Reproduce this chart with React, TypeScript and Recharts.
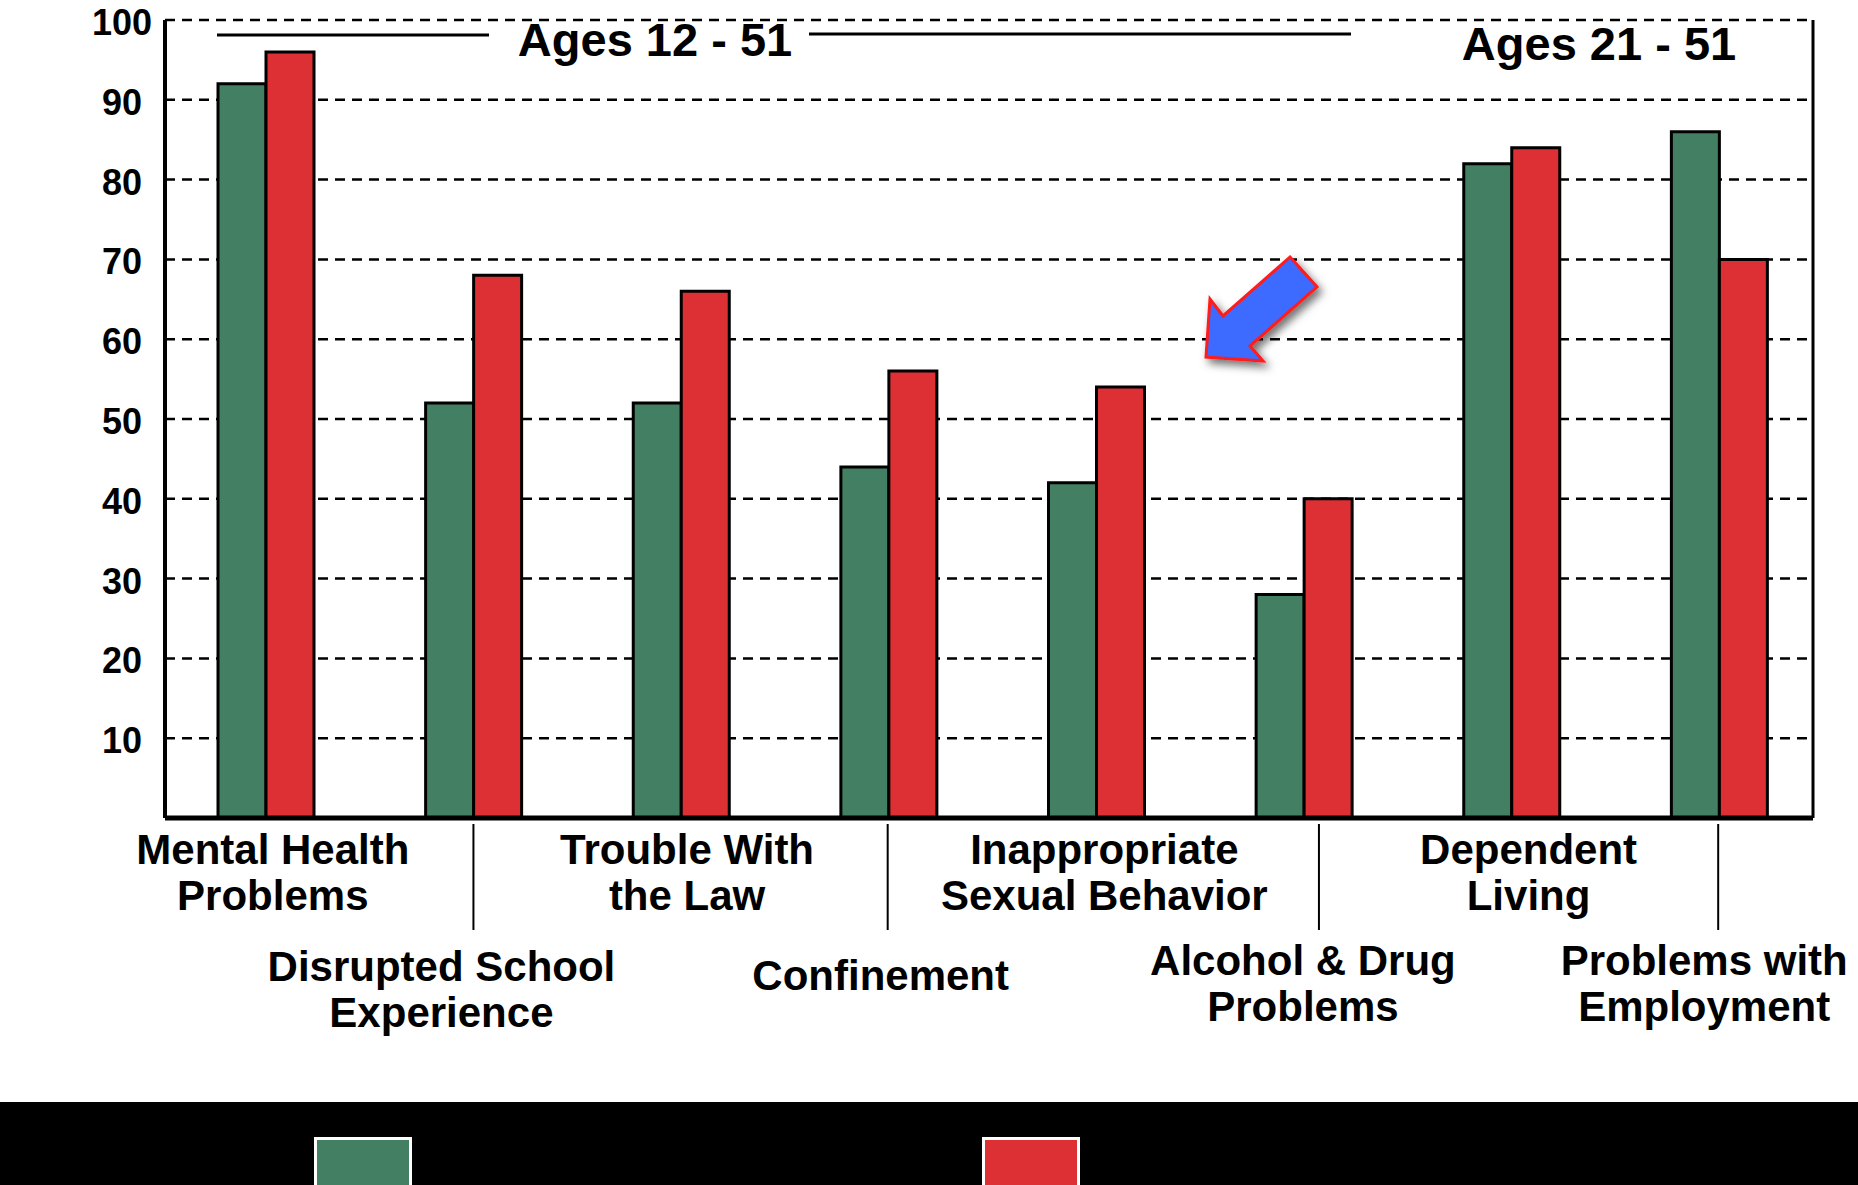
import React from 'react';
import { BarChart, Bar, XAxis, YAxis, CartesianGrid, Legend } from 'recharts';

// categories, two lines where the label wraps
const categories = [
  'Mental Health\nProblems',
  'Disrupted School\nExperience',
  'Trouble With\nthe Law',
  'Confinement',
  'Inappropriate\nSexual Behavior',
  'Alcohol & Drug\nProblems',
  'Dependent\nLiving',
  'Problems with\nEmployment',
];
const groupOne = [92, 52, 52, 44, 42, 28, 82, 86];
const groupTwo = [96, 68, 66, 56, 54, 40, 84, 70];
const yTicks = [10, 20, 30, 40, 50, 60, 70, 80, 90, 100];
const ageBands = ['Ages 12 - 51', 'Ages 21 - 51'];

const data = categories.map((name, i) => ({ name, one: groupOne[i], two: groupTwo[i] }));

const GREEN = '#437f62';
const RED = '#dd3035';
const FONT = "'Liberation Sans', Arial, Helvetica, sans-serif";

// small nudges so the labels sit where the original placed them
const labelDx = [7, -32, 6, -8, 8, -1, 17, -15];
const labelDy = [40, 157, 40, 166, 40, 151, 40, 151];
const sepDx = [0, 0, 0, -1, 0, 15, 0, -1];

const XTick = (props: any) => {
  const { x, y, payload, index } = props;
  const lines: string[] = String(payload.value).split('\n');
  const low = index % 2 === 1;
  const cx = x + labelDx[index];
  return (
    <g>
      {low && (
        <line x1={x + sepDx[index]} x2={x + sepDx[index]} y1={y} y2={y + 106} stroke="#000" strokeWidth={2} />
      )}
      <text x={cx} y={y + labelDy[index]} textAnchor="middle" fontFamily={FONT} fontWeight="bold" fontSize={42} fill="#000">
        {lines.map((l, i) => (
          <tspan key={i} x={cx} dy={i === 0 ? 0 : 46}>{l}</tspan>
        ))}
      </text>
    </g>
  );
};

const YTick = (props: any) => {
  const { x, y, payload } = props;
  return (
    <text x={x - 35} y={y + 15} textAnchor="middle" fontFamily={FONT} fontWeight="bold" fontSize={36} fill="#000">
      {payload.value}
    </text>
  );
};

const LegendBand = (props: any) => {
  const { payload } = props;
  const lefts = [314, 982];
  return (
    <div style={{ position: 'relative', width: 1858, height: 83, background: '#000', overflow: 'hidden' }}>
      {(payload || []).map((p: any, i: number) => (
        <div
          key={p.value}
          style={{
            position: 'absolute', left: lefts[i], top: 35, width: 92, height: 60,
            background: p.color, border: '3px solid #fff',
          }}
        />
      ))}
    </div>
  );
};

const App: React.FC = () => {
  return (
    <div style={{ position: 'relative', width: 1858, height: 1185, background: '#fff', overflow: 'hidden' }}>
      <style>{`body{margin:0}`}</style>
      <BarChart
        width={1858}
        height={1185}
        data={data}
        margin={{ top: 20, right: 44, left: 0, bottom: 0 }}
        barSize={48}
        barGap={0}
      >
        <CartesianGrid horizontal vertical={false} stroke="#000" strokeWidth={2.5} strokeDasharray="10 7" />
        <XAxis
          dataKey="name"
          height={284}
          interval={0}
          padding={{ left: -3, right: -10 }}
          tickLine={false}
          tickMargin={0}
          axisLine={{ stroke: '#000', strokeWidth: 5 }}
          tick={<XTick />}
        />
        <YAxis
          domain={[0, 100]}
          ticks={yTicks}
          width={165}
          tickLine={false}
          axisLine={{ stroke: '#000', strokeWidth: 4 }}
          tick={<YTick />}
        />
        <YAxis
          yAxisId="edge"
          orientation="right"
          domain={[0, 100]}
          width={1}
          tick={false}
          tickLine={false}
          axisLine={{ stroke: '#000', strokeWidth: 3 }}
        />
        <Legend verticalAlign="bottom" width={1858} height={83} wrapperStyle={{ left: 0, bottom: 0 }} content={<LegendBand />} />
        <Bar dataKey="one" name="Group 1" fill={GREEN} stroke="#000" strokeWidth={3} isAnimationActive={false} />
        <Bar dataKey="two" name="Group 2" fill={RED} stroke="#000" strokeWidth={3} isAnimationActive={false} />
      </BarChart>

      {/* age band captions and the pointer arrow */}
      <svg width={1858} height={1185} style={{ position: 'absolute', left: 0, top: 0, pointerEvents: 'none' }}>
        <defs>
          <filter id="shadow" x="-30%" y="-30%" width="160%" height="160%">
            <feDropShadow dx="4" dy="5" stdDeviation="4" floodColor="#000" floodOpacity="0.55" />
          </filter>
        </defs>
        <line x1={217} x2={489} y1={35} y2={35} stroke="#000" strokeWidth={3} />
        <line x1={809} x2={1351} y1={34} y2={34} stroke="#000" strokeWidth={3} />
        <text x={655} y={56} textAnchor="middle" fontFamily={FONT} fontWeight="bold" fontSize={47} fill="#000">{ageBands[0]}</text>
        <text x={1599} y={60} textAnchor="middle" fontFamily={FONT} fontWeight="bold" fontSize={47} fill="#000">{ageBands[1]}</text>
        <path
          d="M1290,257 L1317,287 L1250,346 L1263,361 L1206,357 L1210,299 L1223,316 Z"
          fill="#3d6bff"
          stroke="#ff1a1a"
          strokeWidth={3}
          strokeLinejoin="miter"
          filter="url(#shadow)"
        />
      </svg>
    </div>
  );
};

export default App;
